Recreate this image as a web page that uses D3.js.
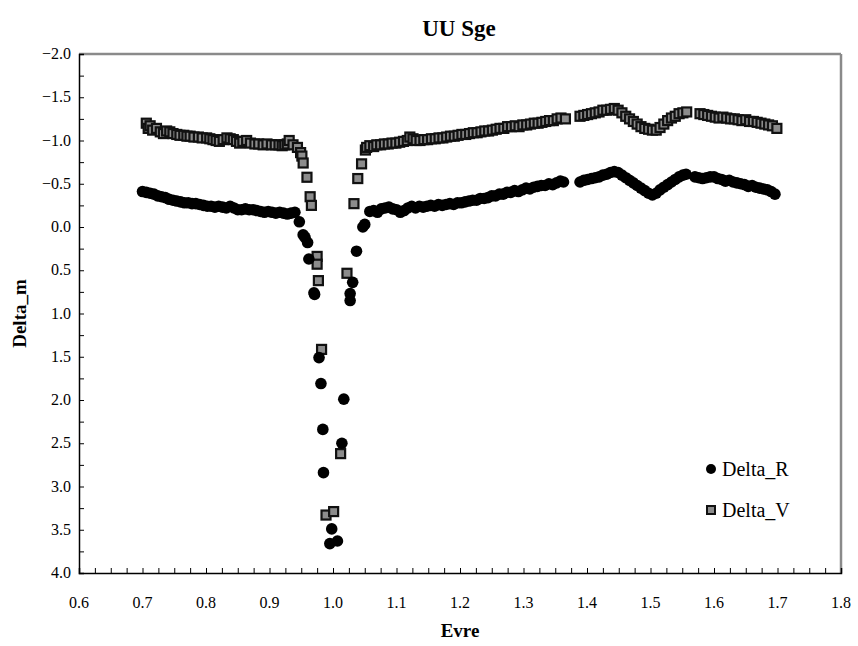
<!DOCTYPE html>
<html>
<head>
<meta charset="utf-8">
<script src="https://cdn.jsdelivr.net/npm/d3@7/dist/d3.min.js"></script>
<style>
  html, body { margin: 0; padding: 0; background: #fff; }
  svg text { font-family: "Liberation Serif", "Times New Roman", "DejaVu Serif", serif !important; }
</style>
</head>
<body>
<svg id="chart" width="858" height="646" font-family="Liberation Serif, serif"></svg>
<script>
// UU Sge: R and V band magnitude differences against orbital phase
const chartTitle = "UU Sge";
const xLabel = "Evre";
const yLabel = "Delta_m";
const seriesNames = ["Delta_R", "Delta_V"];

const xTicks = [0.6, 0.7, 0.8, 0.9, 1.0, 1.1, 1.2, 1.3, 1.4, 1.5, 1.6, 1.7, 1.8];
const yTicks = [-2.0, -1.5, -1.0, -0.5, 0.0, 0.5, 1.0, 1.5, 2.0, 2.5, 3.0, 3.5, 4.0];

// Delta_R phases and magnitudes
const rPhase = [
  0.700, 0.706, 0.712, 0.718, 0.724, 0.730, 0.736, 0.742, 0.748, 0.754,
  0.760, 0.766, 0.772, 0.778, 0.784, 0.790, 0.796, 0.802, 0.808, 0.814,
  0.820, 0.826, 0.832, 0.838, 0.844, 0.850, 0.856, 0.862, 0.868, 0.874,
  0.880, 0.886, 0.892, 0.898, 0.904, 0.910, 0.916, 0.922, 0.928, 0.934,
  0.940,
  0.947, 0.953, 0.956, 0.960, 0.962, 0.970, 0.971, 0.978, 0.981, 0.984,
  0.985, 0.998, 0.995, 1.007, 1.014, 1.017, 1.027, 1.027, 1.031, 1.037,
  1.047, 1.050,
  1.058, 1.064, 1.070, 1.076, 1.082, 1.088, 1.094, 1.100, 1.106, 1.112,
  1.118, 1.124, 1.130, 1.136, 1.142, 1.148, 1.154, 1.160, 1.166, 1.172,
  1.178, 1.184, 1.190, 1.196, 1.202, 1.208, 1.214, 1.220, 1.226, 1.232,
  1.238, 1.244, 1.250, 1.256, 1.262, 1.268, 1.274, 1.280, 1.286, 1.292,
  1.298, 1.304, 1.310, 1.316, 1.322, 1.328, 1.334, 1.340, 1.346, 1.352,
  1.358, 1.363,
  1.389, 1.395, 1.401, 1.407, 1.413, 1.419, 1.425, 1.431, 1.437, 1.443,
  1.449, 1.455, 1.461, 1.467, 1.473, 1.479, 1.485, 1.491, 1.497, 1.503,
  1.509, 1.515, 1.521, 1.527, 1.533, 1.539, 1.545, 1.551, 1.556,
  1.570, 1.576, 1.582, 1.588, 1.594, 1.600, 1.606, 1.612, 1.618, 1.624,
  1.630, 1.636, 1.642, 1.648, 1.654, 1.660, 1.666, 1.672, 1.678, 1.684,
  1.690, 1.696
];
const rMag = [
  -0.41, -0.40, -0.39, -0.38, -0.36, -0.35, -0.34, -0.32, -0.31, -0.30,
  -0.29, -0.28, -0.28, -0.27, -0.27, -0.26, -0.25, -0.24, -0.24, -0.23,
  -0.24, -0.23, -0.22, -0.24, -0.22, -0.20, -0.20, -0.21, -0.20, -0.20,
  -0.19, -0.18, -0.17, -0.18, -0.17, -0.16, -0.17, -0.16, -0.15, -0.16,
  -0.17,
  -0.06, 0.09, 0.12, 0.18, 0.37, 0.76, 0.78, 1.51, 1.81, 2.34,
  2.84, 3.49, 3.66, 3.63, 2.50, 1.99, 0.77, 0.85, 0.64, 0.28,
  0.00, -0.03,
  -0.18, -0.19, -0.17, -0.21, -0.22, -0.23, -0.21, -0.20, -0.17, -0.19,
  -0.22, -0.24, -0.22, -0.24, -0.23, -0.24, -0.25, -0.24, -0.26, -0.25,
  -0.26, -0.27, -0.26, -0.28, -0.28, -0.29, -0.30, -0.31, -0.31, -0.33,
  -0.33, -0.34, -0.36, -0.36, -0.38, -0.38, -0.40, -0.40, -0.42, -0.41,
  -0.43, -0.45, -0.44, -0.46, -0.47, -0.48, -0.48, -0.50, -0.49, -0.51,
  -0.53, -0.52,
  -0.52, -0.54, -0.55, -0.56, -0.57, -0.58, -0.60, -0.61, -0.63, -0.64,
  -0.63, -0.60, -0.57, -0.54, -0.51, -0.48, -0.45, -0.42, -0.39, -0.37,
  -0.39, -0.43, -0.46, -0.49, -0.52, -0.55, -0.58, -0.60, -0.61,
  -0.58, -0.57, -0.56, -0.57, -0.58, -0.58, -0.56, -0.55, -0.53, -0.54,
  -0.52, -0.51, -0.50, -0.49, -0.47, -0.48, -0.46, -0.45, -0.44, -0.43,
  -0.41, -0.38
];

// Delta_V phases and magnitudes
const vPhase = [
  0.706, 0.709, 0.712, 0.716, 0.722, 0.728, 0.733, 0.738, 0.743, 0.748,
  0.754, 0.759, 0.765, 0.770, 0.775, 0.781, 0.788, 0.794, 0.801, 0.806,
  0.811, 0.816, 0.821, 0.827, 0.833, 0.838, 0.843, 0.848, 0.853, 0.858,
  0.864, 0.870, 0.877, 0.883, 0.890, 0.896, 0.903, 0.909, 0.915, 0.920,
  0.924, 0.928, 0.931, 0.937, 0.944,
  0.949, 0.951, 0.953, 0.959, 0.964, 0.966, 0.975, 0.975, 0.977, 0.982,
  0.989, 1.001, 1.012, 1.022, 1.033, 1.039, 1.045, 1.051, 1.053,
  1.058, 1.064, 1.069, 1.075, 1.081, 1.087, 1.093, 1.099, 1.105, 1.111,
  1.117, 1.121, 1.126, 1.131, 1.137, 1.143, 1.149, 1.155, 1.161, 1.167,
  1.173, 1.179, 1.185, 1.191, 1.197, 1.203, 1.209, 1.215, 1.221, 1.227,
  1.233, 1.239, 1.245, 1.251, 1.257, 1.263, 1.269, 1.275, 1.281, 1.287,
  1.293, 1.299, 1.305, 1.311, 1.317, 1.323, 1.329, 1.335, 1.341, 1.347,
  1.353, 1.359, 1.366,
  1.389, 1.395, 1.401, 1.407, 1.413, 1.419, 1.425, 1.431, 1.437, 1.443,
  1.449, 1.455, 1.461, 1.467, 1.473, 1.479, 1.485, 1.491, 1.497, 1.503,
  1.509, 1.515, 1.521, 1.527, 1.533, 1.539, 1.545, 1.551, 1.557,
  1.578, 1.584, 1.590, 1.596, 1.602, 1.608, 1.614, 1.620, 1.626, 1.632,
  1.638, 1.644, 1.650, 1.656, 1.662, 1.668, 1.674, 1.680, 1.686, 1.692,
  1.699
];
const vMag = [
  -1.20, -1.14, -1.17, -1.12, -1.14, -1.10, -1.08, -1.11, -1.10, -1.08,
  -1.07, -1.06, -1.06, -1.05, -1.05, -1.04, -1.04, -1.03, -1.03, -1.02,
  -1.01, -1.00, -0.99, -1.01, -1.03, -1.02, -1.01, -0.99, -0.97, -0.99,
  -1.00, -0.97, -0.96, -0.96, -0.95, -0.96, -0.95, -0.95, -0.95, -0.94,
  -0.95, -0.96, -1.00, -0.95, -0.92,
  -0.86, -0.82, -0.74, -0.575, -0.35, -0.25, 0.34, 0.43, 0.62, 1.415,
  3.33, 3.29, 2.62, 0.535, -0.27, -0.56, -0.73, -0.89, -0.92,
  -0.94, -0.93, -0.95, -0.95, -0.96, -0.96, -0.97, -0.97, -0.98, -0.99,
  -1.00, -1.04, -1.02, -1.00, -1.00, -1.01, -1.01, -1.02, -1.02, -1.03,
  -1.03, -1.04, -1.05, -1.05, -1.06, -1.07, -1.07, -1.08, -1.09, -1.09,
  -1.10, -1.11, -1.11, -1.12, -1.13, -1.14, -1.14, -1.16, -1.16, -1.17,
  -1.16, -1.18, -1.18, -1.19, -1.20, -1.20, -1.21, -1.22, -1.23, -1.23,
  -1.25, -1.26, -1.25,
  -1.28, -1.29, -1.30, -1.31, -1.32, -1.33, -1.35, -1.35, -1.36, -1.37,
  -1.35, -1.32, -1.28, -1.25, -1.22, -1.19, -1.16, -1.14, -1.13, -1.12,
  -1.12, -1.15, -1.19, -1.23, -1.26, -1.28, -1.31, -1.32, -1.33,
  -1.31, -1.30, -1.29, -1.28, -1.27, -1.26, -1.27, -1.26, -1.25, -1.25,
  -1.24, -1.23, -1.24, -1.22, -1.22, -1.21, -1.20, -1.19, -1.18, -1.17,
  -1.14
];

const svg = d3.select("#chart");
const margin = { left: 79, right: 17, top: 54, bottom: 73 };
const W = 858, H = 646;
const serif = "Liberation Serif, Times New Roman, serif";

const x = d3.scaleLinear().domain([0.6, 1.8]).range([margin.left, W - margin.right]);
const y = d3.scaleLinear().domain([-2.0, 4.0]).range([margin.top, H - margin.bottom]);

// frame: grey top/right edges
svg.append("line")
  .attr("x1", x(0.6)).attr("x2", x(1.8)).attr("y1", y(-2)).attr("y2", y(-2))
  .attr("stroke", "#8a8a8a").attr("stroke-width", 2.5);
svg.append("line")
  .attr("x1", x(1.8)).attr("x2", x(1.8)).attr("y1", y(-2)).attr("y2", y(4))
  .attr("stroke", "#8a8a8a").attr("stroke-width", 2.5);

// x axis with inward ticks every 0.025
const xMinor = d3.range(0, 49).map(i => 0.6 + i * 0.025);
const xAxis = svg.append("g").attr("transform", `translate(0,${y(4)})`);
xAxis.call(d3.axisBottom(x).tickValues(xMinor).tickSize(-5).tickFormat(""));
xAxis.attr("font-family", serif);
xAxis.select(".domain").attr("stroke", "#000").attr("stroke-width", 1.5);
xAxis.selectAll(".tick line").attr("stroke", "#000").attr("stroke-width", 1);
xAxis.selectAll(".tick text").remove();
xAxis.selectAll(".lbl").data(xTicks).enter().append("text")
  .attr("class", "lbl")
  .attr("x", d => x(d)).attr("y", 35)
  .attr("text-anchor", "middle")
  .attr("font-family", serif)
  .attr("font-size", 16).attr("fill", "#000")
  .text(d => d3.format(".1f")(d));

// y axis with inward ticks every 0.25
const yMinor = d3.range(0, 25).map(i => -2.0 + i * 0.25);
const yAxis = svg.append("g").attr("transform", `translate(${x(0.6)},0)`);
yAxis.call(d3.axisLeft(y).tickValues(yMinor).tickSize(-5).tickFormat(""));
yAxis.attr("font-family", serif);
yAxis.select(".domain").attr("stroke", "#000").attr("stroke-width", 1.5);
yAxis.selectAll(".tick line").attr("stroke", "#000").attr("stroke-width", 1);
yAxis.selectAll(".tick text").remove();
yAxis.selectAll(".lbl").data(yTicks).enter().append("text")
  .attr("class", "lbl")
  .attr("x", -8).attr("y", d => y(d) + 5)
  .attr("text-anchor", "end")
  .attr("font-family", serif)
  .attr("font-size", 16).attr("fill", "#000")
  .text(d => d3.format(".1f")(d));

// titles
svg.append("text").attr("x", 459).attr("y", 36)
  .attr("text-anchor", "middle").attr("font-family", serif)
  .attr("font-size", 23).attr("font-weight", "bold")
  .text(chartTitle);
svg.append("text").attr("x", 460).attr("y", 637)
  .attr("text-anchor", "middle").attr("font-family", serif)
  .attr("font-size", 19).attr("font-weight", "bold")
  .text(xLabel);
svg.append("text")
  .attr("transform", `translate(26,${(y(-2) + y(4)) / 2}) rotate(-90)`)
  .attr("text-anchor", "middle").attr("font-family", serif)
  .attr("font-size", 19).attr("font-weight", "bold")
  .text(yLabel);

// data marks
const rData = rPhase.map((p, i) => ({ p, m: rMag[i] }));
const vData = vPhase.map((p, i) => ({ p, m: vMag[i] }));

const sq = 9;
svg.append("g").selectAll("rect").data(vData).enter().append("rect")
  .attr("x", d => x(d.p) - sq / 2).attr("y", d => y(d.m) - sq / 2)
  .attr("width", sq).attr("height", sq)
  .attr("fill", "#8c8c8c").attr("stroke", "#111").attr("stroke-width", 2.2);

svg.append("g").selectAll("circle").data(rData).enter().append("circle")
  .attr("cx", d => x(d.p)).attr("cy", d => y(d.m)).attr("r", 5.8)
  .attr("fill", "#000");

// legend
const lg = svg.append("g").attr("transform", "translate(711,469)");
lg.append("circle").attr("cx", 0).attr("cy", 0).attr("r", 5).attr("fill", "#000");
lg.append("text").attr("x", 11).attr("y", 7).attr("font-family", serif)
  .attr("font-size", 20).text(seriesNames[0]);
lg.append("rect").attr("x", -4).attr("y", 37).attr("width", 8).attr("height", 8)
  .attr("fill", "#8c8c8c").attr("stroke", "#111").attr("stroke-width", 2);
lg.append("text").attr("x", 11).attr("y", 48).attr("font-family", serif)
  .attr("font-size", 20).text(seriesNames[1]);
</script>
</body>
</html>
